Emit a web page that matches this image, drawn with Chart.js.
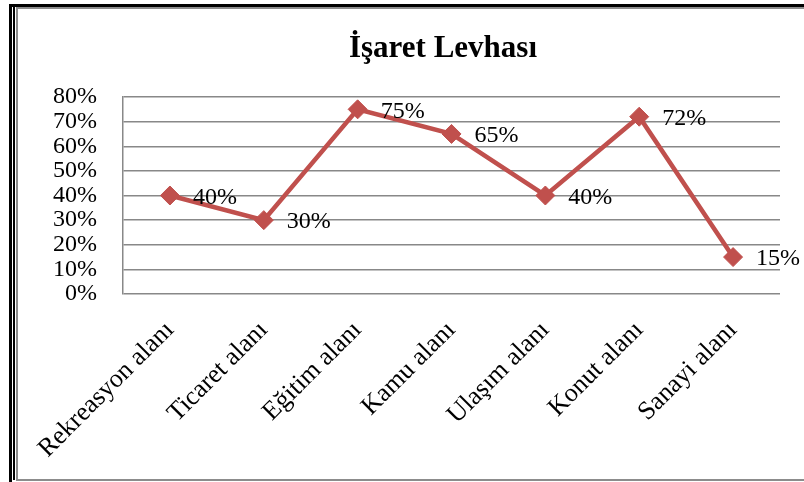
<!DOCTYPE html>
<html>
<head>
<meta charset="utf-8">
<script src="https://cdn.jsdelivr.net/npm/chart.js@4/dist/chart.umd.min.js"></script>
<style>
  html, body { margin: 0; padding: 0; background: #fff; overflow: hidden; width: 804px; height: 482px; }
  .frame-outer { position: absolute; left: 9px; top: 4px; width: 900px; height: 478px; border-left: 3px solid #000; border-top: 3px solid #000; border-bottom: 3px solid #000; }
  .frame-mid { position: absolute; left: 13px; top: 7px; width: 900px; height: 473px; border-left: 2px solid #000; }
  .frame-inner { position: absolute; left: 16px; top: 7px; width: 900px; height: 470px; border-left: 2px solid #8c8c8c; border-top: 2px solid #8c8c8c; border-bottom: 2px solid #8c8c8c; }
  #chart { position: absolute; left: 18px; top: 9px; }
</style>
</head>
<body>
<div class="frame-outer"></div>
<div class="frame-mid"></div>
<div class="frame-inner"></div>
<canvas id="chart" width="850" height="468"></canvas>
<script>
const titleText = 'İşaret Levhası';
const categories = ['Rekreasyon alanı', 'Ticaret alanı', 'Eğitim alanı', 'Kamu alanı', 'Ulaşım alanı', 'Konut alanı', 'Sanayi alanı'];
const values = [40, 30, 75, 65, 40, 72, 15];
const yTicks = [0, 10, 20, 30, 40, 50, 60, 70, 80];

const lineColor = '#c0504d';
const serif = "'Liberation Serif', 'Times New Roman', serif";

// title centred on the full (wider, cropped) chart, not on the plot
const chartTitle = {
  id: 'chartTitle',
  afterDraw(chart) {
    const ctx = chart.ctx;
    ctx.save();
    ctx.font = `bold 31px ${serif}`;
    ctx.fillStyle = '#000';
    ctx.textAlign = 'center';
    ctx.textBaseline = 'alphabetic';
    ctx.fillText(titleText, chart.width / 2, 48);
    ctx.restore();
  }
};

// value labels to the right of each marker
const pointLabels = {
  id: 'pointLabels',
  afterDatasetsDraw(chart) {
    const ctx = chart.ctx;
    const meta = chart.getDatasetMeta(0);
    ctx.save();
    ctx.font = `24px ${serif}`;
    ctx.fillStyle = '#000';
    ctx.textAlign = 'left';
    ctx.textBaseline = 'middle';
    meta.data.forEach((pt, i) => {
      ctx.fillText(`${values[i]}%`, pt.x + 23, pt.y + 2);
    });
    ctx.restore();
  }
};

new Chart(document.getElementById('chart').getContext('2d'), {
  type: 'line',
  data: {
    labels: categories,
    datasets: [
      {
        data: values,
        borderColor: lineColor,
        backgroundColor: lineColor,
        borderWidth: 4.5,
        tension: 0,
        pointStyle: 'rectRot',
        pointRadius: 9.5,
        pointBorderWidth: 1,
        pointBackgroundColor: lineColor,
        pointBorderColor: lineColor
      }
    ]
  },
  options: {
    responsive: false,
    animation: false,
    devicePixelRatio: 1,
    layout: { padding: { left: 0, right: 88, top: 88, bottom: 0 } },
    plugins: {
      legend: { display: false },
      tooltip: { enabled: false },
      title: { display: false }
    },
    scales: {
      x: {
        offset: true,
        grid: { display: false },
        border: { display: false },
        ticks: {
          color: '#000',
          font: { family: serif, size: 26 },
          minRotation: 45,
          maxRotation: 45,
          padding: 13,
          autoSkip: false
        },
        afterFit(scale) { scale.height = 183; }
      },
      y: {
        min: yTicks[0],
        max: yTicks[yTicks.length - 1],
        grid: { color: '#888', lineWidth: 1.5, drawTicks: false },
        border: { display: true, color: '#888', width: 1.5 },
        ticks: {
          stepSize: 10,
          autoSkip: false,
          color: '#000',
          font: { family: serif, size: 24 },
          padding: 26,
          callback: (v) => `${v}%`
        },
        afterFit(scale) { scale.width = 105; }
      }
    }
  },
  plugins: [pointLabels, chartTitle]
});
</script>
</body>
</html>
